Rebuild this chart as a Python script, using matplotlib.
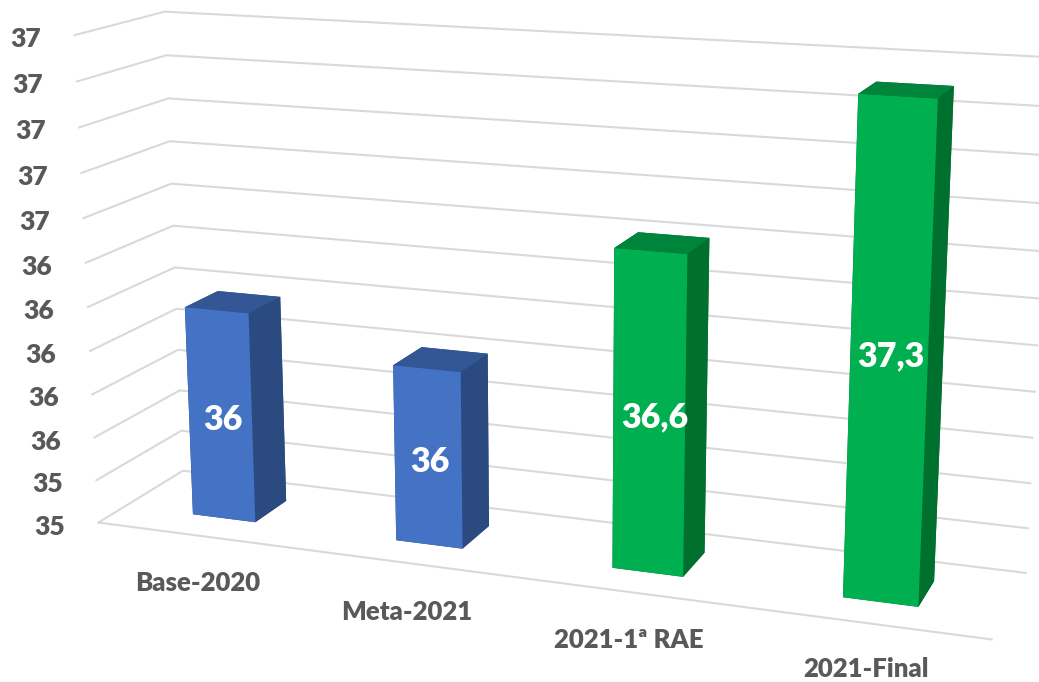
#!/usr/bin/env python3
"""3D column chart, base vs meta vs 2021 results. Writes out.png."""
import matplotlib
matplotlib.use("Agg")
import matplotlib.pyplot as plt
from mpl_toolkits.mplot3d import proj3d

categories = ["Base-2020", "Meta-2021", "2021-1ª RAE", "2021-Final"]
values = [36.17, 36.0, 36.6, 37.3]
value_labels = ["36", "36", "36,6", "37,3"]
z_ticks = [35.2, 35.4, 35.6, 35.8, 36.0, 36.2, 36.4, 36.6, 36.8, 37.0, 37.2, 37.4]
z_labels = ["35", "35", "36", "36", "36", "36", "36", "37", "37", "37", "37", "37"]

BLUE = ("#4472C4", "#335795", "#2B4A80")   # front, top, side
GREEN = ("#00B050", "#00843C", "#00702F")
bar_colors = [BLUE, BLUE, GREEN, GREEN]
GRID = "#D9D9D9"
TEXT = "#595959"
FONT = "Lato"
WEIGHT = "heavy"

W, H = 1039, 682
BAR_W, Y0, Y1 = 0.31338, 0.31182, 0.70843
# camera solved from the corners of the walls and bars
SCALE, TX, TY = 5734.8, 548.32, 302.93
side = SCALE * 0.185
left = TX - SCALE * 0.095
top = TY - SCALE * 0.09

fig = plt.figure(figsize=(W / 100, H / 100), dpi=100)
ax = fig.add_axes([left / W, 1 - (top + side) / H, side / W, side / H],
                  projection="3d")
ax.set_xlim(0, len(categories)); ax.set_ylim(0, 1)
ax.set_zlim(z_ticks[0], z_ticks[-1])
ax.view_init(elev=14.395, azim=-69.727, roll=0.068378)
ax.set_proj_type("persp", focal_length=0.43192)
ax.set_box_aspect((1, 0.19636, 0.54727))
ax.set_axis_off()
ax.patch.set_visible(False)

zb = z_ticks[0]
nx = len(categories)
for z in z_ticks:
    ax.plot([0, 0, nx], [0, 1, 1], [z, z, z], color=GRID, lw=1.5)
ax.plot([0, nx], [0, 0], [zb, zb], color=GRID, lw=1.5)

for i, v in enumerate(values):
    front, topc, sidec = bar_colors[i]
    # bar3d face order: bottom, top, front, back, left, right
    ax.bar3d(i + (1 - BAR_W) / 2, Y0, zb, BAR_W, Y1 - Y0, v - zb,
             color=[sidec, topc, front, sidec, sidec, sidec],
             shade=False, linewidth=0)


def label(x, y, z, txt, dx, dy, size, color):
    # dx, dy in pixels from the projected point (dy downwards)
    px, py, _ = proj3d.proj_transform(x, y, z, ax.get_proj())
    ax.annotate(txt, (px, py), xytext=(dx * 0.72, -dy * 0.72),
                textcoords="offset points", ha="center", va="center",
                fontsize=size, fontweight=WEIGHT, family=FONT, color=color,
                zorder=100, annotation_clip=False)


for z, s in zip(z_ticks, z_labels):
    label(0, 0, z, s, -49, 4, 19, TEXT)

cat_dy = [47, 49, 48, 46]
cat_dx = [0, 0, 0, -1]
for i, c in enumerate(categories):
    label(i + 0.5, 0, zb, c, cat_dx[i], cat_dy[i], 18.5, TEXT)

lab_dx = [3, 2, 6, 2]
lab_dy = [5, 5, 3, 1]
for i, v in enumerate(values):
    label(i + 0.5, Y0, (zb + v) / 2, value_labels[i], lab_dx[i], lab_dy[i], 24.5, "white")

fig.savefig("out.png", dpi=100)
